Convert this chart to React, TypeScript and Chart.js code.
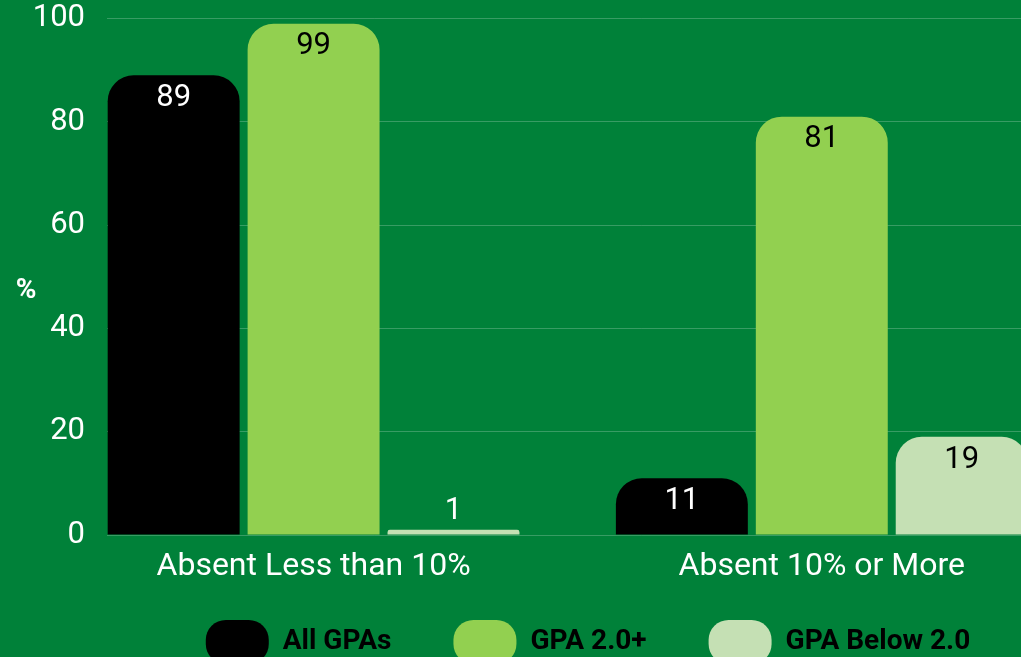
import React, { useEffect, useRef } from "react";
import { Chart, registerables } from "chart.js";

Chart.register(...registerables);

const categories = ["Absent Less than 10%", "Absent 10% or More"];
const seriesNames = ["All GPAs", "GPA 2.0+", "GPA Below 2.0"];
const allGpas = [89, 11];
const gpa20Plus = [99, 81];
const gpaBelow20 = [1, 19];
const yTicks = [0, 20, 40, 60, 80, 100];
const yAxisTitle = "%";

const BG = "#008139";
const barColors = ["#000000", "#92D050", "#C5E0B4"];
const insideLabelColors = ["#ffffff", "#000000", "#000000"];
const FONT = "Roboto, 'Noto Sans', sans-serif";

const CANVAS_W = 1176;
const CANVAS_H = 674;

const bgPlugin = {
  id: "bgFill",
  beforeDraw(chart: any) {
    const { ctx, width, height } = chart;
    ctx.save();
    ctx.fillStyle = BG;
    ctx.fillRect(0, 0, width, height);
    ctx.restore();
  },
};

// let the x-axis tick labels extend into the space above the legend without being clipped
const labelRoomPlugin = {
  id: "xLabelRoom",
  afterLayout(chart: any) {
    const xs = chart.scales.x;
    if (xs) xs.bottom = xs.top + 60;
  },
};

const yTitlePlugin = {
  id: "yTitleUpright",
  afterDraw(chart: any) {
    const { ctx, chartArea } = chart;
    ctx.save();
    ctx.fillStyle = "#ffffff";
    ctx.font = `bold 28px ${FONT}`;
    ctx.textAlign = "center";
    ctx.textBaseline = "middle";
    ctx.fillText(yAxisTitle, 26, chartArea.top + (chartArea.bottom - chartArea.top) * 0.527);
    ctx.restore();
  },
};

const dataLabelPlugin = {
  id: "barValueLabels",
  afterDatasetsDraw(chart: any) {
    const { ctx } = chart;
    ctx.save();
    ctx.font = `31px ${FONT}`;
    ctx.textAlign = "center";
    ctx.textBaseline = "middle";
    chart.data.datasets.forEach((ds: any, di: number) => {
      const meta = chart.getDatasetMeta(di);
      meta.data.forEach((bar: any, i: number) => {
        const v = ds.data[i].y;
        const h = bar.base - bar.y;
        if (h > 44) {
          ctx.fillStyle = insideLabelColors[di];
          ctx.fillText(String(v), bar.x, bar.y + 23);
        } else {
          ctx.fillStyle = "#ffffff";
          ctx.fillText(String(v), bar.x, bar.y - 19);
        }
      });
    });
    ctx.restore();
  },
};

export default function App() {
  const ref = useRef<HTMLCanvasElement>(null);
  useEffect(() => {
    if (!ref.current) return;
    const seriesValues = [allGpas, gpa20Plus, gpaBelow20];
    const chart = new Chart(ref.current, {
      type: "bar",
      data: {
        datasets: seriesNames.map((name, si) => ({
          label: name,
          data: seriesValues[si].map((v, ci) => ({ x: ci, y: v })),
          backgroundColor: barColors[si],
          borderWidth: 0,
          borderRadius: 26,
          borderSkipped: "start",
          categoryPercentage: 0.826,
          barPercentage: 0.943,
        })),
      },
      options: {
        responsive: false,
        animation: false,
        layout: { padding: 0 },
        plugins: {
          tooltip: { enabled: false },
          legend: {
            position: "bottom",
            labels: {
              color: "#000000",
              font: { family: FONT, size: 28, weight: "bold" },
              boxWidth: 63,
              boxHeight: 44,
              useBorderRadius: true,
              borderRadius: 20,
              padding: 62,
            },
          },
        },
        scales: {
          x: {
            type: "linear",
            offset: false,
            bounds: "data",
            min: -0.4065,
            max: 1.697,
            afterBuildTicks: (axis: any) => {
              axis.ticks = categories.map((_, i) => ({ value: i }));
            },
            afterFit: (axis: any) => {
              axis.height = 23;
            },
            grid: { display: false, drawTicks: false, offset: false },
            border: { display: false },
            ticks: {
              color: "#ffffff",
              font: { family: FONT, size: 32 },
              padding: 13,
              maxRotation: 0,
              autoSkip: false,
              callback: (v: any) => categories[v] ?? "",
            },
          },
          y: {
            min: 0,
            max: 100,
            afterBuildTicks: (axis: any) => {
              axis.ticks = yTicks.map((v) => ({ value: v }));
            },
            afterFit: (axis: any) => {
              axis.width = 107;
              axis.paddingTop = 18.5;
              axis.paddingBottom = 10;
            },
            grid: { color: "rgba(255,255,255,0.22)", lineWidth: 1, drawTicks: false },
            border: { display: false },
            ticks: {
              color: "#ffffff",
              font: { family: FONT, size: 31 },
              padding: 22,
            },
          },
        },
      } as any,
      plugins: [bgPlugin, labelRoomPlugin, dataLabelPlugin, yTitlePlugin],
    });
    return () => chart.destroy();
  }, []);
  return (
    <div style={{ position: "fixed", left: 0, top: 0, width: "100vw", height: "100vh", overflow: "hidden", background: BG }}>
      <canvas ref={ref} width={CANVAS_W} height={CANVAS_H} style={{ width: CANVAS_W, height: CANVAS_H, display: "block" }} />
    </div>
  );
}
